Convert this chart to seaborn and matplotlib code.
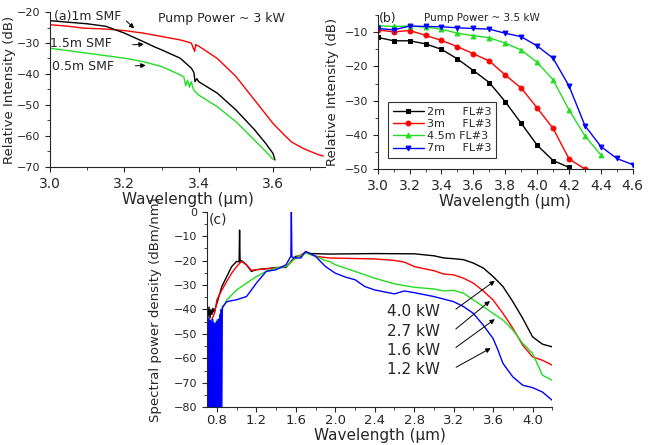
import numpy as np
import pandas as pd
import matplotlib
matplotlib.use("Agg")
import matplotlib.pyplot as plt
from matplotlib.ticker import MultipleLocator
import seaborn as sns

# ---- panel (a): relative intensity vs wavelength, ~3 kW pump
a_red_x = [3.0, 3.05, 3.09, 3.15, 3.2, 3.25, 3.3, 3.35, 3.38, 3.389, 3.392, 3.395, 3.4, 3.45, 3.5, 3.55, 3.6, 3.63, 3.65, 3.68, 3.7, 3.72, 3.735]
a_red_y = [-24.1, -24.6, -25.2, -25.5, -26.0, -26.8, -27.9, -29.0, -30.0, -32.7, -30.5, -30.8, -31.0, -35.0, -40.8, -48.4, -56.0, -59.7, -62.0, -64.0, -65.0, -66.0, -66.5]
a_blk_x = [3.0, 3.05, 3.1, 3.15, 3.2, 3.25, 3.28, 3.3, 3.35, 3.38, 3.387, 3.39, 3.395, 3.4, 3.45, 3.5, 3.55, 3.58, 3.6, 3.605]
a_blk_y = [-22.8, -23.3, -23.8, -24.6, -26.8, -29.5, -31.2, -32.2, -34.9, -38.1, -39.5, -42.5, -41.5, -42.5, -46.2, -51.6, -58.0, -62.4, -65.7, -67.8]
a_grn_x = [3.0, 3.05, 3.1, 3.15, 3.2, 3.25, 3.3, 3.35, 3.36, 3.365, 3.37, 3.375, 3.38, 3.385, 3.39, 3.4, 3.45, 3.5, 3.55, 3.58, 3.6]
a_grn_y = [-31.7, -32.5, -33.3, -34.1, -34.9, -36.0, -37.6, -40.3, -41.0, -43.8, -42.0, -44.3, -42.5, -44.8, -45.7, -46.8, -50.6, -55.4, -61.4, -65.0, -67.6]

# ---- panel (b): 3.5 kW pump, different fibre lengths
b_x = [3.0, 3.1, 3.2, 3.3, 3.4, 3.5, 3.6, 3.7, 3.8, 3.9, 4.0, 4.1, 4.2, 4.3, 4.4, 4.5, 4.6]
b_2m = [-11.5, -12.5, -12.5, -13.4, -15.0, -17.8, -21.2, -24.7, -30.3, -36.6, -43.0, -47.5, -49.5]
b_3m = [-9.3, -9.9, -9.5, -10.9, -12.4, -14.2, -16.3, -18.4, -22.5, -26.3, -32.1, -38.1, -47.0, -50.0]
b_45m = [-8.1, -8.3, -8.2, -8.5, -9.1, -10.3, -11.0, -11.6, -13.2, -15.2, -18.8, -23.9, -32.7, -40.3, -45.9]
b_7m = [-8.9, -9.3, -8.2, -8.3, -8.4, -8.7, -8.9, -9.1, -10.3, -11.3, -14.0, -17.6, -25.7, -37.3, -43.4, -46.9, -48.7]
b_labels = ["2m     FL#3", "3m     FL#3", "4.5m FL#3", "7m     FL#3"]

# ---- panel (c): spectral power density for four pump powers
c_4p0_x = [0.71, 0.72, 0.73, 0.74, 0.75, 0.76, 0.77, 0.78, 0.8, 0.85, 0.9, 0.95, 1.0, 1.025, 1.03, 1.035, 1.05, 1.1, 1.15, 1.2, 1.3, 1.4, 1.5, 1.55, 1.6, 1.65, 1.7, 1.75, 1.94, 2.4, 2.8, 3.0, 3.1, 3.2, 3.3, 3.4, 3.5, 3.6, 3.7, 3.8, 3.9, 4.0, 4.1, 4.2]
c_4p0_y = [-43.0, -39.0, -43.5, -40.0, -42.0, -39.5, -41.0, -40.0, -37.5, -30.6, -26.5, -22.4, -20.3, -20.5, -7.5, -20.5, -20.0, -21.7, -24.4, -23.7, -23.3, -22.8, -22.8, -20.3, -18.2, -18.2, -16.5, -17.1, -17.3, -17.1, -17.2, -18.0, -18.9, -19.2, -19.6, -21.0, -23.0, -26.5, -30.6, -36.8, -43.6, -51.2, -54.2, -55.3]
c_2p7_x = [0.72, 0.75, 0.78, 0.8, 0.85, 0.9, 0.95, 1.0, 1.05, 1.1, 1.15, 1.2, 1.4, 1.5, 1.6, 1.7, 1.8, 1.94, 2.4, 2.6, 2.7, 2.8, 2.9, 3.0, 3.1, 3.2, 3.3, 3.4, 3.5, 3.6, 3.7, 3.8, 3.9, 4.0, 4.1, 4.2]
c_2p7_y = [-45.0, -44.0, -41.0, -36.0, -32.0, -28.5, -25.1, -22.4, -20.3, -21.7, -24.0, -23.7, -23.0, -22.5, -18.8, -16.5, -18.2, -18.9, -19.3, -19.9, -20.6, -22.4, -23.3, -24.1, -25.5, -25.8, -27.2, -29.2, -32.4, -36.1, -41.6, -47.7, -54.6, -59.4, -60.8, -62.8]
c_1p6_x = [0.72, 0.75, 0.77, 0.78, 0.79, 0.8, 0.81, 0.85, 0.9, 1.0, 1.1, 1.2, 1.3, 1.4, 1.5, 1.6, 1.7, 1.8, 1.9, 1.94, 2.0, 2.2, 2.4, 2.6, 2.8, 3.0, 3.1, 3.2, 3.3, 3.4, 3.5, 3.6, 3.7, 3.8, 3.9, 4.0, 4.1, 4.2]
c_1p6_y = [-45.0, -44.3, -46.5, -48.0, -45.5, -44.3, -46.0, -40.2, -36.1, -32.0, -29.2, -26.5, -24.4, -23.0, -22.4, -18.9, -16.9, -18.2, -20.0, -20.3, -21.7, -24.4, -27.2, -29.5, -30.9, -31.6, -32.4, -32.2, -33.3, -36.1, -38.8, -41.6, -44.3, -48.4, -53.9, -58.0, -66.9, -69.0]
c_1p2_x = [0.700, 0.704, 0.708, 0.712, 0.716, 0.720, 0.724, 0.728, 0.732, 0.736, 0.740, 0.744, 0.748, 0.752, 0.756, 0.760, 0.764, 0.768, 0.772, 0.776, 0.780, 0.784, 0.788, 0.792, 0.796, 0.800, 0.805, 0.810, 0.815, 0.820, 0.830, 0.835, 0.840, 0.850, 0.855, 0.860,
           0.9, 1.0, 1.1, 1.15, 1.2, 1.3, 1.4, 1.5, 1.55, 1.555, 1.56, 1.6, 1.65, 1.7, 1.8, 1.9, 2.0, 2.1, 2.2, 2.3, 2.4, 2.6, 2.7, 2.8, 3.0, 3.2, 3.3, 3.4, 3.5, 3.6, 3.65, 3.7, 3.8, 3.9, 4.0, 4.1, 4.2]
c_1p2_y = [-44.0, -80.0, -45.0, -80.0, -43.5, -80.0, -46.0, -80.0, -44.5, -80.0, -45.0, -80.0, -46.5, -80.0, -44.0, -80.0, -47.0, -80.0, -45.5, -80.0, -47.0, -78.0, -46.0, -80.0, -45.0, -80.0, -46.0, -80.0, -44.0, -80.0, -42.0, -80.0, -40.0, -80.0, -39.0, -38.8,
           -36.8, -36.0, -34.7, -32.0, -29.2, -24.4, -23.7, -21.7, -18.2, 0.0, -18.5, -18.9, -18.9, -16.2, -18.2, -22.4, -25.1, -26.7, -27.8, -30.6, -32.0, -33.6, -32.4, -33.1, -34.7, -36.8, -38.8, -41.6, -46.4, -51.9, -56.7, -62.1, -67.6, -71.0, -72.0, -73.8, -77.2]
c_labels = ["4.0 kW", "2.7 kW", "1.6 kW", "1.2 kW"]

sns.set_style("ticks")
plt.rcParams['font.family'] = ['DejaVu Sans']
plt.rcParams['xtick.direction'] = 'out'
plt.rcParams['ytick.direction'] = 'out'

fig = plt.figure(figsize=(6.49, 4.45), dpi=100)
axA = fig.add_axes([0.077, 0.625, 0.424, 0.348])
axB = fig.add_axes([0.582, 0.620, 0.393, 0.346])
axC = fig.add_axes([0.319, 0.085, 0.532, 0.439])

arrow = dict(arrowstyle='-|>', color='black', lw=0.7, mutation_scale=7)

# (a)
for xs, ys, col in [(a_red_x, a_red_y, 'red'), (a_blk_x, a_blk_y, 'black'), (a_grn_x, a_grn_y, '#22dd22')]:
    sns.lineplot(x=xs, y=ys, color=col, lw=1.0, ax=axA, estimator=None, sort=False)
axA.set_xlim(3.0, 3.74)
axA.set_ylim(-70, -20)
axA.xaxis.set_major_locator(MultipleLocator(0.2))
axA.xaxis.set_minor_locator(MultipleLocator(0.1))
axA.yaxis.set_major_locator(MultipleLocator(10))
axA.yaxis.set_minor_locator(MultipleLocator(5))
axA.set_xlabel('Wavelength (μm)', fontsize=11)
axA.set_ylabel('Relative Intensity (dB)', fontsize=9.5)
axA.xaxis.set_label_coords(0.5, -0.16)
axA.yaxis.set_label_coords(-0.125, 0.5)
axA.tick_params(axis='x', labelsize=10)
axA.tick_params(axis='y', labelsize=8)
axA.text(3.012, -21.4, '(a)1m SMF', fontsize=9, va='center')
axA.text(3.29, -22.0, 'Pump Power ~ 3 kW', fontsize=9, va='center')
axA.text(3.0, -30.3, '1.5m SMF', fontsize=9, va='center')
axA.text(3.005, -37.6, '0.5m SMF', fontsize=9, va='center')
axA.annotate('', xy=(3.232, -25.9), xytext=(3.20, -22.3), arrowprops=arrow)
axA.annotate('', xy=(3.26, -30.4), xytext=(3.215, -30.6), arrowprops=arrow)
axA.annotate('', xy=(3.265, -37.2), xytext=(3.222, -37.4), arrowprops=arrow)
sns.despine(ax=axA)

# (b)
b_series = [(b_2m, 'black', 's'), (b_3m, 'red', 'o'), (b_45m, '#22dd22', '^'), (b_7m, 'blue', 'v')]
for (ys, col, mk), lab in zip(b_series, b_labels):
    sns.lineplot(x=b_x[:len(ys)], y=ys, color=col, marker=mk, markersize=3.5,
                 markeredgecolor=col, lw=1.0, ax=axB, label=lab, estimator=None)
axB.set_xlim(3.0, 4.6)
axB.set_ylim(-50, -5)
axB.xaxis.set_major_locator(MultipleLocator(0.2))
axB.xaxis.set_minor_locator(MultipleLocator(0.1))
axB.yaxis.set_major_locator(MultipleLocator(10))
axB.yaxis.set_minor_locator(MultipleLocator(5))
axB.set_xlabel('Wavelength (μm)', fontsize=11)
axB.set_ylabel('Relative Intensity (dB)', fontsize=9.5)
axB.xaxis.set_label_coords(0.5, -0.16)
axB.yaxis.set_label_coords(-0.15, 0.5)
axB.tick_params(axis='x', labelsize=10)
axB.tick_params(axis='y', labelsize=8)
axB.text(3.01, -6.0, '(b)', fontsize=9, va='center')
axB.text(3.29, -5.8, 'Pump Power ~ 3.5 kW', fontsize=7.5, va='center')
leg = axB.legend(loc='upper left', bbox_to_anchor=(0.02, 0.47), fontsize=8, frameon=True,
                 fancybox=False, edgecolor='black', handlelength=2.8, borderpad=0.4,
                 labelspacing=0.2, handletextpad=0.3)
leg.get_frame().set_linewidth(0.8)
sns.despine(ax=axB)

# (c)
c_series = [(c_4p0_x, c_4p0_y, 'black'), (c_2p7_x, c_2p7_y, 'red'), (c_1p6_x, c_1p6_y, '#22dd22'), (c_1p2_x, c_1p2_y, 'blue')]
for xs, ys, col in c_series:
    sns.lineplot(x=xs, y=ys, color=col, lw=1.0, ax=axC, estimator=None, sort=False)
axC.set_xlim(0.7, 4.2)
axC.set_ylim(-80, 0)
axC.set_xticks([0.8, 1.2, 1.6, 2.0, 2.4, 2.8, 3.2, 3.6, 4.0])
axC.xaxis.set_minor_locator(MultipleLocator(0.2))
axC.yaxis.set_major_locator(MultipleLocator(10))
axC.yaxis.set_minor_locator(MultipleLocator(5))
axC.set_xlabel('Wavelength (μm)', fontsize=11)
axC.set_ylabel('Spectral power density (dBm/nm)', fontsize=9.5)
axC.xaxis.set_label_coords(0.5, -0.105)
axC.yaxis.set_label_coords(-0.13, 0.5)
axC.tick_params(axis='x', labelsize=9.5, pad=1.5)
axC.tick_params(axis='y', labelsize=8)
axC.text(0.72, -3.0, '(c)', fontsize=10, va='center')
tips = [(3.64, -27.6), (3.59, -35.8), (3.64, -43.3), (3.60, -55.3)]
label_y = [-40.9, -49.1, -56.6, -64.6]
for lab, ly, tip in zip(c_labels, label_y, tips):
    axC.text(2.52, ly, lab, fontsize=11, va='center')
    axC.annotate('', xy=tip, xytext=(3.2, ly + 0.4), arrowprops=arrow)
sns.despine(ax=axC)

fig.savefig('out.png', dpi=100)
